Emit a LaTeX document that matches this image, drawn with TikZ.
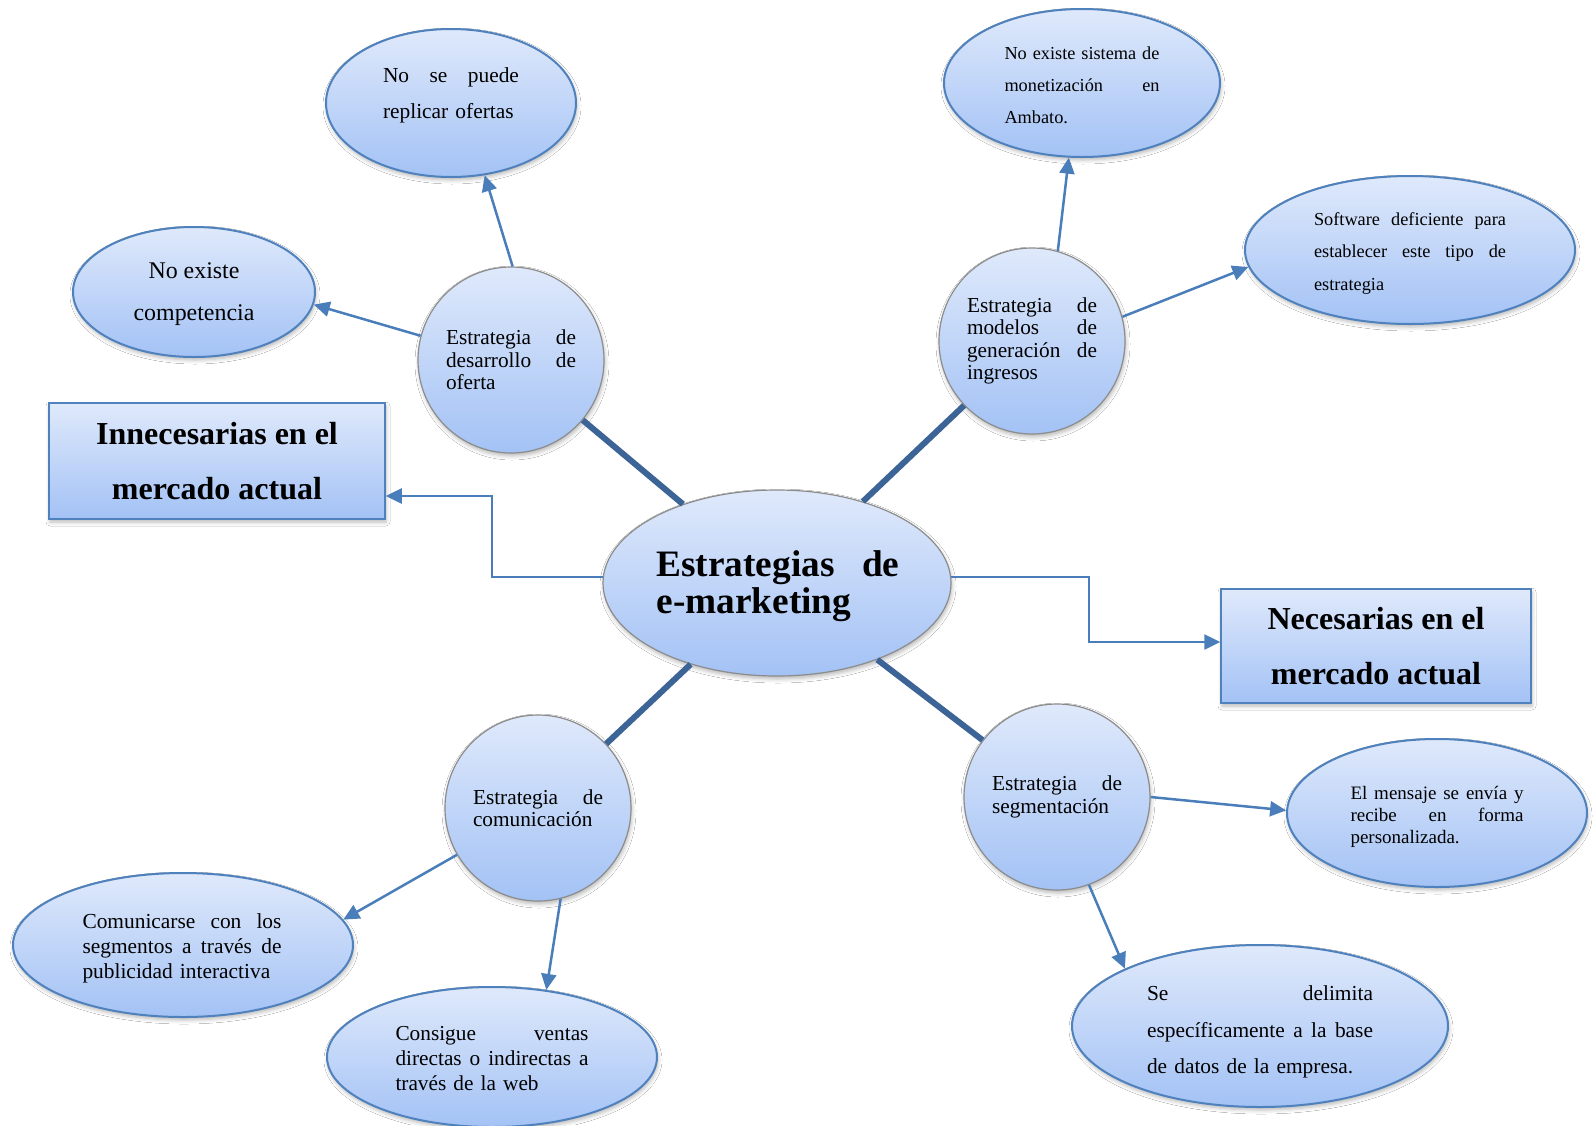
\documentclass[tikz,border=0pt]{standalone}
\usepackage{fontspec}
\setmainfont{Liberation Serif}
\usetikzlibrary{arrows.meta,shapes.geometric,shadows.blur}
\setlength\parindent{0pt}
\newcommand\setfs[2]{\fontsize{#1}{#2}\selectfont}
% justified lines are written with \hfill between their words

\definecolor{fillTop}{RGB}{223,233,251}
\definecolor{fillBot}{RGB}{163,194,245}
\definecolor{grayB}{RGB}{140,140,140}
\definecolor{leafB}{RGB}{79,129,189}
\definecolor{lineB}{RGB}{60,100,150}
\definecolor{arrowB}{RGB}{74,126,187}

\begin{document}
\begin{tikzpicture}[x=1pt,y=-1pt,
  base/.style={shade, top color=fillTop, bottom color=fillBot,
    blur shadow={shadow xshift=1pt, shadow yshift=-3pt,
      shadow blur radius=4pt, shadow opacity=28}},
  hub/.style={base, ellipse, draw=grayB, line width=1.2pt,
    minimum width=348pt, minimum height=186pt, inner sep=0pt},
  hubtext/.style={text width=243pt, align=left, inner sep=0pt,
    font=\bfseries\setfs{37.3pt}{37.6pt}},
  strat/.style={base, circle, draw=grayB, line width=1.2pt,
    minimum size=186pt, inner sep=0pt, text width=130pt, align=left,
    font=\setfs{21.3pt}{22.4pt}},
  leaf/.style={base, ellipse, draw=leafB, line width=2pt, inner sep=0pt},
  leaftext/.style={align=left, inner sep=0pt},
  box/.style={base, rectangle, draw=leafB, line width=1.5pt, inner sep=0pt,
    align=center, font=\bfseries\setfs{32pt}{55pt}},
  link/.style={draw=lineB, line width=6pt},
  arr/.style={draw=arrowB, line width=2.5pt, -{Triangle[length=16pt,width=15pt]}}
]
\path[fill=white, use as bounding box] (0,0) rectangle (1593,1125);

% central topic
\node[hub] (hub) at (777,583) {};
\node[hubtext] (hubT) at (778,586) {Estrategias\hfill de\\e-marketing};

% the four strategies
\node[strat] (desarrollo) at (511,360) {Estrategia\hfill de\\desarrollo\hfill de\\oferta};
\node[strat] (modelos) at (1032,341) {Estrategia\hfill de\\modelos\hfill de\\generación\hfill de\\ingresos};
\node[strat] (comunic) at (538,808) {Estrategia\hfill de\\comunicación};
\node[strat] (segment) at (1057,797) {Estrategia\hfill de\\segmentación};

% outcome boxes
\node[box, minimum width=336pt, minimum height=116pt] (innec) at (217,461)
  {Innecesarias en el\\mercado actual};
\node[box, minimum width=310pt, minimum height=114pt] (necesarias) at (1376,646)
  {Necesarias en el\\mercado actual};

% details of each strategy
\node[leaf, minimum width=250pt, minimum height=148pt] (replicar) at (451,103) {};
\node[leaftext, text width=136pt, font=\setfs{21.4pt}{36.6pt}] (replicarT) at (451,95.5)
  {No\hfill se\hfill puede\\replicar ofertas};

\node[leaf, minimum width=242pt, minimum height=130pt] (competencia) at (194,292) {};
\node[leaftext, align=center, font=\setfs{23.9pt}{41.7pt}] (competenciaT) at (194,294)
  {No existe\\competencia};

\node[leaf, minimum width=276pt, minimum height=148pt] (monetiz) at (1082,83) {};
\node[leaftext, text width=155pt, font=\setfs{18.3pt}{32pt}] (monetizT) at (1082,85.5)
  {No\hfill existe\hfill sistema\hfill de\\monetización\hfill en\\Ambato.};

\node[leaf, minimum width=330pt, minimum height=148pt] (software) at (1410,250) {};
\node[leaftext, text width=192pt, font=\setfs{18.3pt}{32.5pt}] (softwareT) at (1410,253.5)
  {Software\hfill deficiente\hfill para\\establecer\hfill este\hfill tipo\hfill de\\estrategia};

\node[leaf, minimum width=300pt, minimum height=148pt] (mensaje) at (1437,813) {};
\node[leaftext, text width=173pt, font=\setfs{19pt}{21.8pt}] (mensajeT) at (1437,817)
  {El\hfill mensaje\hfill se\hfill envía\hfill y\\recibe\hfill en\hfill forma\\personalizada.};

\node[leaf, minimum width=376pt, minimum height=162pt] (delimita) at (1260,1026) {};
\node[leaftext, text width=226pt, font=\setfs{21.4pt}{36.6pt}] (delimitaT) at (1260,1032)
  {Se\hfill delimita\\específicamente\hfill a\hfill la\hfill base\\de datos de la empresa.};

\node[leaf, minimum width=330pt, minimum height=140pt] (consigue) at (492,1057) {};
\node[leaftext, text width=193pt, font=\setfs{21.3pt}{24.9pt}] (consigueT) at (492,1058.5)
  {Consigue\hfill ventas\\directas\hfill o\hfill indirectas\hfill a\\través de la web};

\node[leaf, minimum width=340pt, minimum height=144pt] (comunicarse) at (183,945) {};
\node[leaftext, text width=199pt, font=\setfs{21.4pt}{24.9pt}] (comunicarseT) at (182,948.5)
  {Comunicarse\hfill con\hfill los\\segmentos\hfill a\hfill través\hfill de\\publicidad interactiva};

% elbow corners of the outcome connectors
\coordinate (k1) at (492,496);
\coordinate (k2) at (1089,642);

% hub to strategies
\draw[link] (hub) -- (desarrollo);
\draw[link] (hub) -- (modelos);
\draw[link] (hub) -- (comunic);
\draw[link] (hub) -- (segment);

% strategies to their details
\draw[arr] (desarrollo.89) -- (replicar.-65);
\draw[arr] (desarrollo.165) -- (competencia.-6);
\draw[arr] (modelos.74) -- (monetiz.260);
\draw[arr] (modelos.15) -- (software.186);
\draw[arr] (comunic.210) -- (comunicarse.9);
\draw[arr] (comunic.-76) -- (consigue.51);
\draw[arr] (segment.0) -- (mensaje.179);
\draw[arr] (segment.-70) -- (delimita.157);

% hub to outcomes
\draw[arr] (hub.178) -| (k1) -- (k1 -| innec.east);
\draw[arr] (hub.2) -| (k2) -- (k2 -| necesarias.west);
\end{tikzpicture}
\end{document}
